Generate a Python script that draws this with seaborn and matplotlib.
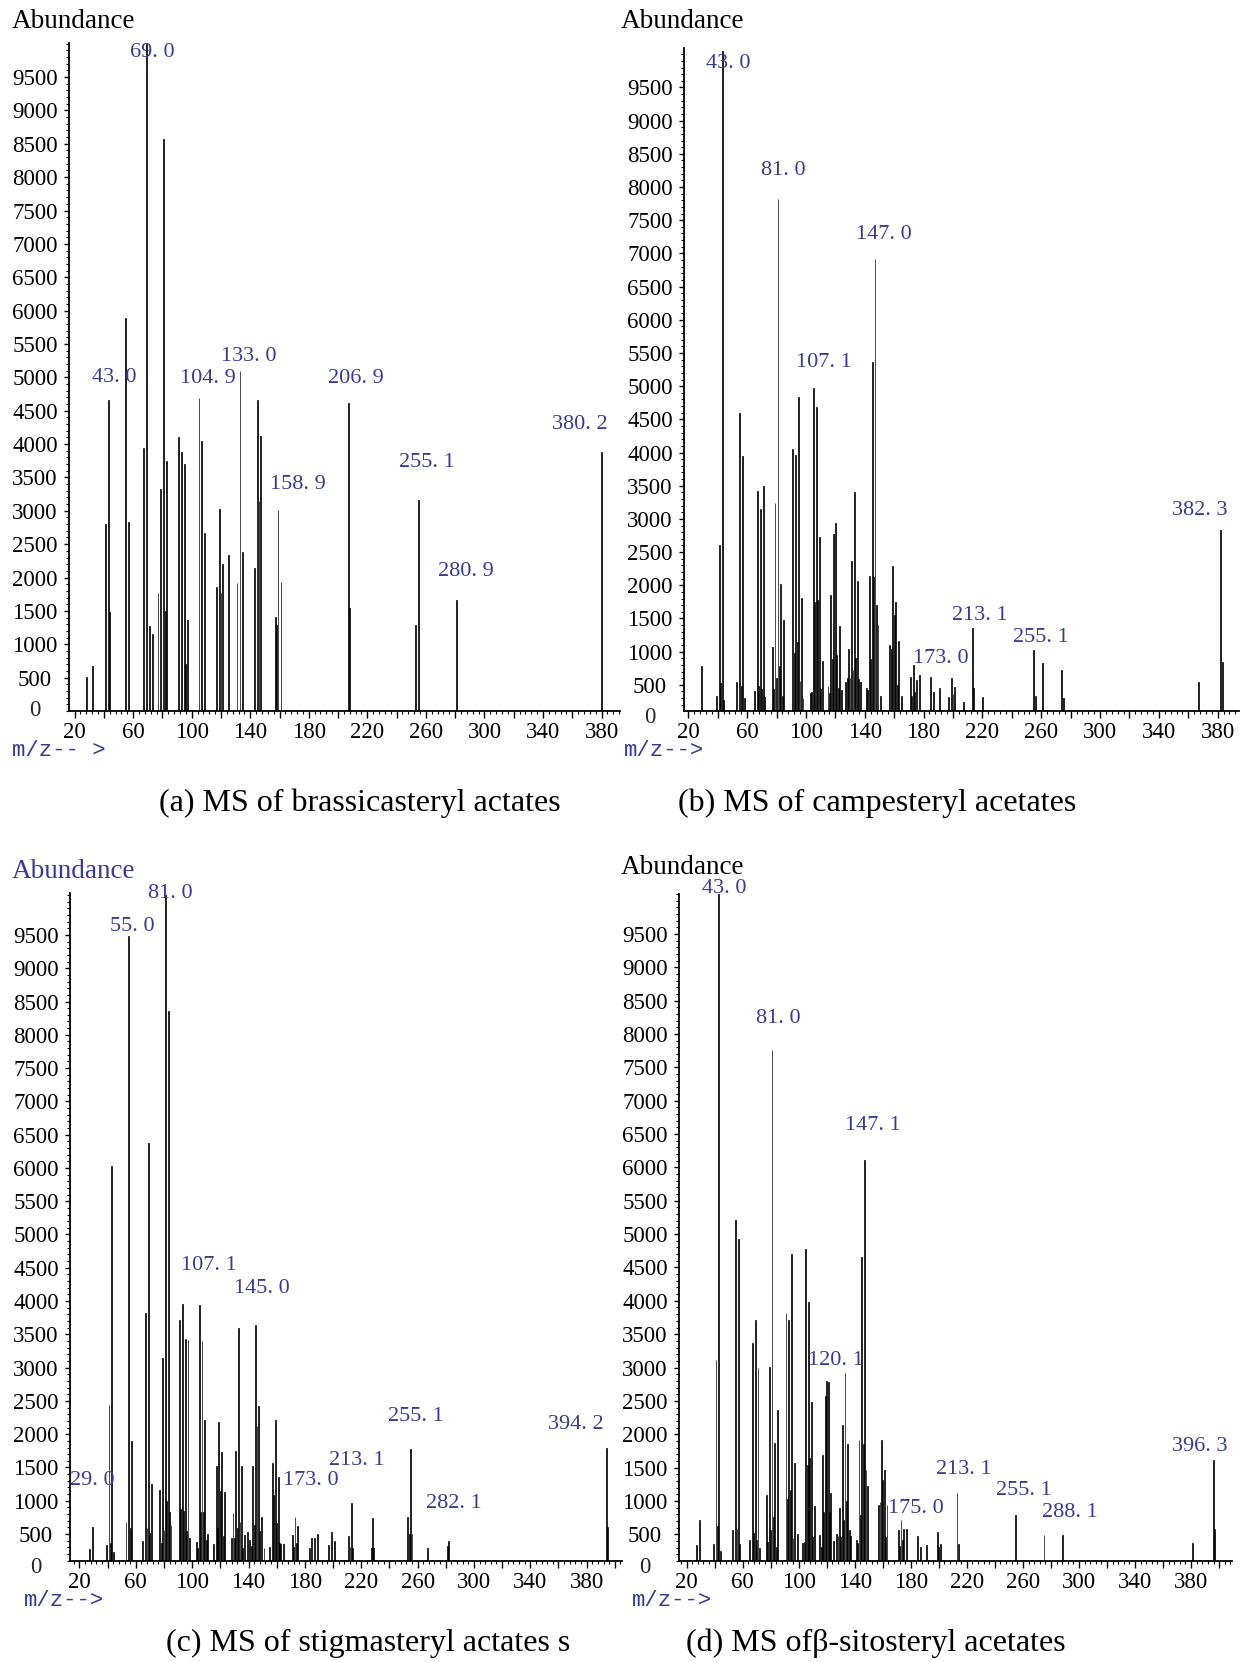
import numpy as np
import pandas as pd
import seaborn as sns
import matplotlib.pyplot as plt
from matplotlib.ticker import MultipleLocator

W, H, DPI = 1250, 1662, 100
BLUE = "#3b3b8e"

# (a) brassicasteryl acetate
a_mz = [28, 32, 41, 43, 44, 55, 57, 67, 69, 71, 73, 77, 79, 81, 82, 83, 91, 93, 95, 96, 97,
        105, 107, 109, 117, 119, 120, 121, 125, 131, 133, 135, 143, 145, 146, 147,
        157, 158, 159, 161, 207, 208, 253, 255, 281, 380]
a_ab = [515, 675, 2805, 4655, 1490, 5890, 2830, 3935, 10000, 1275, 1155, 1775, 3330, 8565, 1500, 3750,
        4105, 3885, 3700, 700, 1365, 4690, 4040, 2665, 1865, 3030, 1765, 2205, 2340, 1915, 5100, 2380,
        2150, 4665, 3140, 4125, 1415, 1290, 3005, 1940, 4615, 1540, 1290, 3165, 1665, 3885]
a_labels = [43.0, 69.0, 104.9, 133.0, 158.9, 206.9, 255.1, 280.9, 380.2]

# (b) campesteryl acetate
b_mz = [29, 39, 41, 42, 43, 44, 53, 55, 56, 57, 58, 65, 67, 68, 69, 70, 71, 72, 77, 78, 79, 80,
        81, 82, 83, 84, 85, 91, 92, 93, 94, 95, 96, 97, 98, 103, 104, 105, 106, 107, 108, 109,
        110, 111, 115, 116, 117, 118, 119, 120, 121, 122, 123, 124, 127, 128, 129, 130, 131, 132,
        133, 134, 135, 136, 137, 141, 142, 143, 144, 145, 146, 147, 148, 149, 151, 157, 158, 159,
        160, 161, 162, 163, 165, 171, 172, 173, 174, 175, 177, 185, 187, 191, 197, 199, 200, 201,
        207, 213, 214, 220, 255, 256, 261, 274, 275, 367, 382, 383]
b_ab = [780, 330, 2605, 520, 10050, 270, 535, 4595, 480, 3945, 295, 405, 3415, 480, 3145, 435,
        3490, 310, 1070, 435, 3235, 595, 7820, 780, 2020, 330, 1480, 4060, 980, 3960, 1145, 4830,
        560, 1810, 295, 370, 385, 4970, 1745, 4680, 1785, 2720, 435, 855, 480, 370, 1855, 895,
        2770, 2945, 945, 445, 1385, 420, 545, 595, 1035, 595, 2360, 720, 3405, 905, 2060, 580,
        545, 445, 420, 2140, 885, 5370, 2120, 6910, 1695, 1395, 335, 1095, 1045, 2290, 1545,
        1740, 495, 1160, 330, 620, 330, 805, 385, 570, 645, 620, 395, 445, 310, 605, 355, 470,
        245, 1355, 445, 320, 1020, 330, 825, 720, 305, 545, 2830, 840]
b_labels = [43.0, 81.0, 107.1, 147.0, 173.0, 213.1, 255.1, 382.3]

# (c) stigmasteryl acetate
c_mz = [27, 29, 39, 41, 42, 43, 44, 53, 55, 56, 57, 65, 67, 68, 69, 70, 71, 77, 78, 79, 80, 81,
        82, 83, 84, 85, 91, 92, 93, 94, 95, 96, 97, 98, 103, 104, 105, 106, 107, 108, 109, 110,
        111, 115, 117, 118, 119, 120, 121, 122, 123, 128, 129, 130, 131, 132, 133, 134, 135, 136,
        137, 139, 141, 142, 143, 144, 145, 146, 147, 148, 149, 151, 155, 157, 158, 159, 160, 161,
        162, 163, 165, 171, 172, 173, 174, 175, 183, 185, 187, 189, 197, 199, 201, 211, 212, 213,
        214, 227, 228, 229, 253, 254, 255, 256, 267, 281, 282, 394, 395]
c_ab = [270, 610, 335, 2445, 360, 6035, 235, 685, 9485, 585, 1900, 395, 3820, 595, 6370, 520,
        1245, 1160, 370, 3145, 560, 10100, 1000, 8350, 835, 635, 3720, 875, 3960, 845, 3425, 545,
        3410, 435, 385, 295, 3935, 835, 3400, 835, 2220, 410, 495, 345, 1525, 585, 2185, 1145,
        1725, 475, 1135, 435, 810, 445, 1750, 585, 3595, 685, 1525, 295, 485, 535, 410, 325,
        1520, 635, 3635, 2120, 2425, 545, 760, 285, 310, 1560, 1085, 2210, 660, 1350, 360, 350,
        345, 485, 310, 760, 360, 625, 295, 435, 435, 500, 335, 535, 400, 470, 310, 960, 295,
        295, 735, 295, 750, 500, 1785, 500, 285, 320, 395, 1800, 600]
c_labels = [29.0, 55.0, 81.0, 107.1, 145.0, 173.0, 213.1, 255.1, 282.1, 394.2]

# (d) beta-sitosteryl acetate
d_mz = [27, 29, 39, 41, 42, 43, 44, 53, 55, 56, 57, 58, 65, 67, 68, 69, 70, 71, 72, 77, 78, 79,
        80, 81, 82, 83, 84, 85, 91, 92, 93, 94, 95, 96, 97, 99, 103, 104, 105, 106, 107, 108,
        109, 110, 111, 115, 116, 117, 118, 119, 120, 121, 122, 123, 125, 127, 128, 129, 130, 131,
        132, 133, 134, 135, 136, 137, 141, 142, 143, 144, 145, 146, 147, 148, 149, 157, 158, 159,
        160, 161, 162, 163, 171, 172, 173, 174, 175, 177, 185, 187, 191, 199, 200, 201, 213, 214,
        255, 275, 288, 381, 396, 397]
d_ab = [345, 710, 360, 3120, 620, 10100, 250, 570, 5210, 575, 4920, 360, 410, 3370, 520, 3720,
        410, 3000, 295, 1095, 385, 3010, 560, 7760, 760, 1870, 310, 2370, 3825, 1035, 3720, 1170,
        4695, 445, 1570, 510, 375, 385, 4770, 1535, 3975, 1645, 2485, 460, 925, 485, 310, 1695,
        835, 2575, 2800, 2785, 835, 1125, 400, 500, 470, 895, 460, 2145, 710, 2920, 995, 1860,
        560, 475, 410, 375, 1910, 785, 4660, 1860, 6110, 1470, 1220, 945, 985, 1910, 1310, 1470,
        460, 935, 570, 320, 710, 410, 575, 575, 470, 310, 345, 530, 310, 360, 1120, 360, 785,
        495, 485, 370, 1620, 580]
d_labels = [43.0, 81.0, 120.1, 147.1, 175.0, 213.1, 255.1, 288.1, 396.3]

captions = ["(a) MS of brassicasteryl actates", "(b) MS of campesteryl acetates",
            "(c) MS of stigmasteryl actates s", "(d) MS ofβ-sitosteryl acetates"]

# layout (pixels): axes box, limits, label nudges, text anchors
panels = [
    dict(mz=a_mz, ab=a_ab, labels=a_labels, box=(69, 43, 620, 711),
         xlim=(16.2, 392.6), ylim=(0, 10010),
         nudge=[(6, 23), (6, -9), (9, 20), (9, 14), (20, 26), (8, 25), (8, 37), (9, 28), (-22, 27)],
         abund=(12, 21, "black"), mz_txt=(12, 751, "m/z-- >"), cap=(360, 803)),
    dict(mz=b_mz, ab=b_ab, labels=b_labels, box=(684, 48, 1239, 711),
         xlim=(17.1, 394.5), ylim=(105, 10095),
         nudge=[(6, -13), (5, 28), (8, 45), (9, 25), (28, 6), (8, 13), (7, 13), (-21, 20)],
         abund=(621, 21, "black"), mz_txt=(624, 751, "m/z-->"), cap=(877, 803)),
    dict(mz=c_mz, ab=c_ab, labels=c_labels, box=(70, 893, 622, 1561),
         xlim=(13.3, 405.1), ylim=(95, 10130),
         nudge=[(0, 46), (4, 9), (5, 1), (7, 75), (6, 37), (16, 36), (5, 43), (5, 32), (5, 38), (-31, 23)],
         abund=(12, 871, BLUE), mz_txt=(24, 1601, "m/z-->"), cap=(368, 1643)),
    dict(mz=d_mz, ab=d_ab, labels=d_labels, box=(679, 894, 1232, 1561),
         xlim=(14.6, 409.2), ylim=(99, 10100),
         nudge=[(5, 5), (6, 32), (9, 20), (8, 35), (12, 21), (7, 23), (8, 25), (8, 23), (-14, 13)],
         abund=(621, 867, "black"), mz_txt=(632, 1601, "m/z-->"), cap=(876, 1643)),
]

sns.set_theme(style="ticks")
plt.rcParams["font.family"] = ["Liberation Serif", "DejaVu Serif"]

fig = plt.figure(figsize=(W / DPI, H / DPI), dpi=DPI)

for p, cap in zip(panels, captions):
    l, t, r, b = p["box"]
    ax = fig.add_axes([l / W, 1 - b / H, (r - l) / W, (b - t) / H])
    df = pd.DataFrame({"mz": p["mz"], "ab": p["ab"]})
    sns.barplot(data=df, x="mz", y="ab", native_scale=True, width=0.6, color="black",
                saturation=1, errorbar=None, linewidth=0.5, edgecolor="black", ax=ax)
    ax.set_xlim(p["xlim"])
    ax.set_ylim(p["ylim"])
    ax.set_xlabel("")
    ax.set_ylabel("")
    ax.set_facecolor("none")
    sns.despine(ax=ax)
    for s in ["left", "bottom"]:
        ax.spines[s].set_linewidth(1.3)
        ax.spines[s].set_color("black")

    xt = list(range(20, int(p["xlim"][1]) + 1, 20))
    ax.set_xticks(xt)
    ax.set_xticklabels([str(v) if (v - 20) % 40 == 0 and v <= 380 else "" for v in xt])
    ax.xaxis.set_minor_locator(MultipleLocator(4))
    ax.set_yticks(range(500, 10000, 500))
    ax.yaxis.set_minor_locator(MultipleLocator(100))
    ax.tick_params(axis="both", which="both", direction="out", color="black", labelcolor="black",
                   labelsize=16.5)
    ax.tick_params(axis="x", which="major", length=5, width=1, pad=3)
    ax.tick_params(axis="x", which="minor", length=2.5, width=0.8)
    ax.tick_params(axis="y", which="major", length=3.5, width=1, pad=21)
    ax.tick_params(axis="y", which="minor", length=2, width=0.8)
    plt.setp(ax.get_yticklabels(), ha="center")
    ax.annotate("0", xy=(0, 0), xycoords=ax.get_yaxis_transform(), xytext=(-24.5, 0),
                textcoords="offset points", ha="center", va="center", fontsize=16.5,
                annotation_clip=False)

    mz_arr = np.array(p["mz"])
    for lab, (dx, dy) in zip(p["labels"], p["nudge"]):
        i = int(np.argmin(np.abs(mz_arr - lab)))
        ax.annotate(f"{lab:.1f}".replace(".", ". "), xy=(lab, p["ab"][i]),
                    xytext=(dx, dy), textcoords="offset pixels", ha="center", va="center",
                    fontsize=16, color=BLUE, annotation_clip=False)

    ax_x, ax_y, col = p["abund"]
    fig.text(ax_x / W, 1 - ax_y / H, "Abundance", ha="left", va="center", fontsize=19.5, color=col)
    mx, my, mtxt = p["mz_txt"]
    fig.text(mx / W, 1 - my / H, mtxt, ha="left", va="center", fontsize=16, color=BLUE,
             family=["Liberation Mono", "DejaVu Sans Mono"])
    cx, cy = p["cap"]
    fig.text(cx / W, 1 - cy / H, cap, ha="center", va="center", fontsize=23, color="black")

fig.savefig("out.png", dpi=DPI)
